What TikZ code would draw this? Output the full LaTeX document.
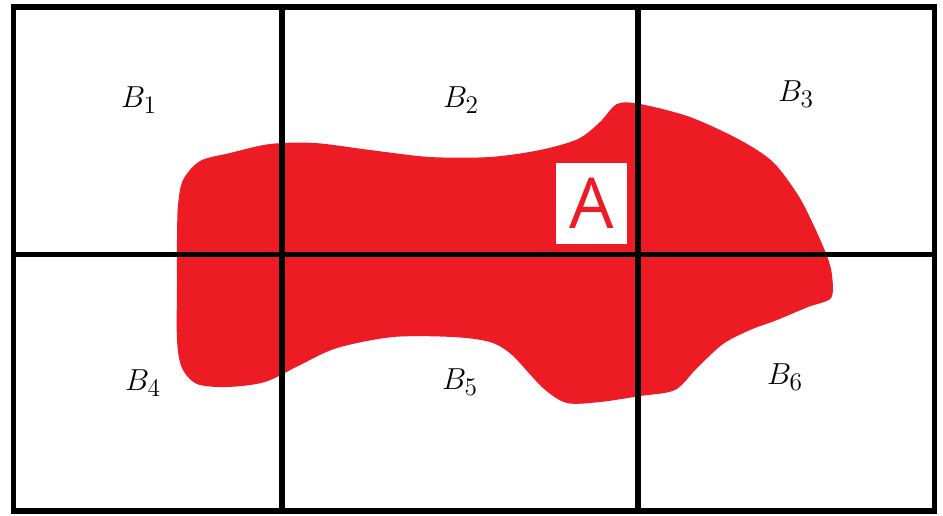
\documentclass[tikz,border=0pt]{standalone}
\usepackage{fontspec}
\newfontfamily\labelfont{Open Sans}
\definecolor{paintred}{HTML}{ED1C24}
\tikzset{
  gridline/.style={line width=2.9pt},
  boxlabel/.style={font=\fontsize{19}{22}\selectfont,inner sep=0pt},
}
\begin{document}
\begin{tikzpicture}[x=.02cm,y=-.02cm]
  \useasboundingbox (0,0) rectangle (943,515);
  % the set A
  \fill[paintred] plot[smooth cycle,tension=.5] coordinates {
    (178,205) (183,180) (200,161) (230,153) (270,144) (315,143) (370,150) (430,157)
    (490,157) (540,150) (578,139) (600,122) (617,104) (640,104) (690,117) (740,140)
    (773,162) (798,195) (814,226) (827,256) (832,275) (831,298) (808,307)
    (777,320) (750,330) (723,344) (697,368) (675,390) (640,396) (600,402) (567,403)
    (543,388) (512,355) (490,342) (453,337) (393,337) (337,348) (300,365) (265,382)
    (227,387) (197,384) (182,368) (177,340) (177,280) (177,240)};
  % grid of the boxes
  \draw[gridline] (13.5,7) rectangle (934.5,511);
  \draw[gridline] (282,7)--(282,511) (638,7)--(638,511) (13.5,254.5)--(934.5,254.5);
  \node[boxlabel] (b1) at (139,100) {$B_1$}; \node[boxlabel] (b2) at (461,100) {$B_2$};
  \node[boxlabel] (b3) at (796,94) {$B_3$};  \node[boxlabel] (b4) at (143,383) {$B_4$};
  \node[boxlabel] (b5) at (460,382) {$B_5$}; \node[boxlabel] (b6) at (785,377) {$B_6$};
  \node[fill=white,text=paintred,minimum width=1.42cm,minimum height=1.62cm,inner sep=0pt,
    font=\labelfont\fontsize{40}{40}\selectfont] (a) at (591.5,203.5) {A};
\end{tikzpicture}
\end{document}
